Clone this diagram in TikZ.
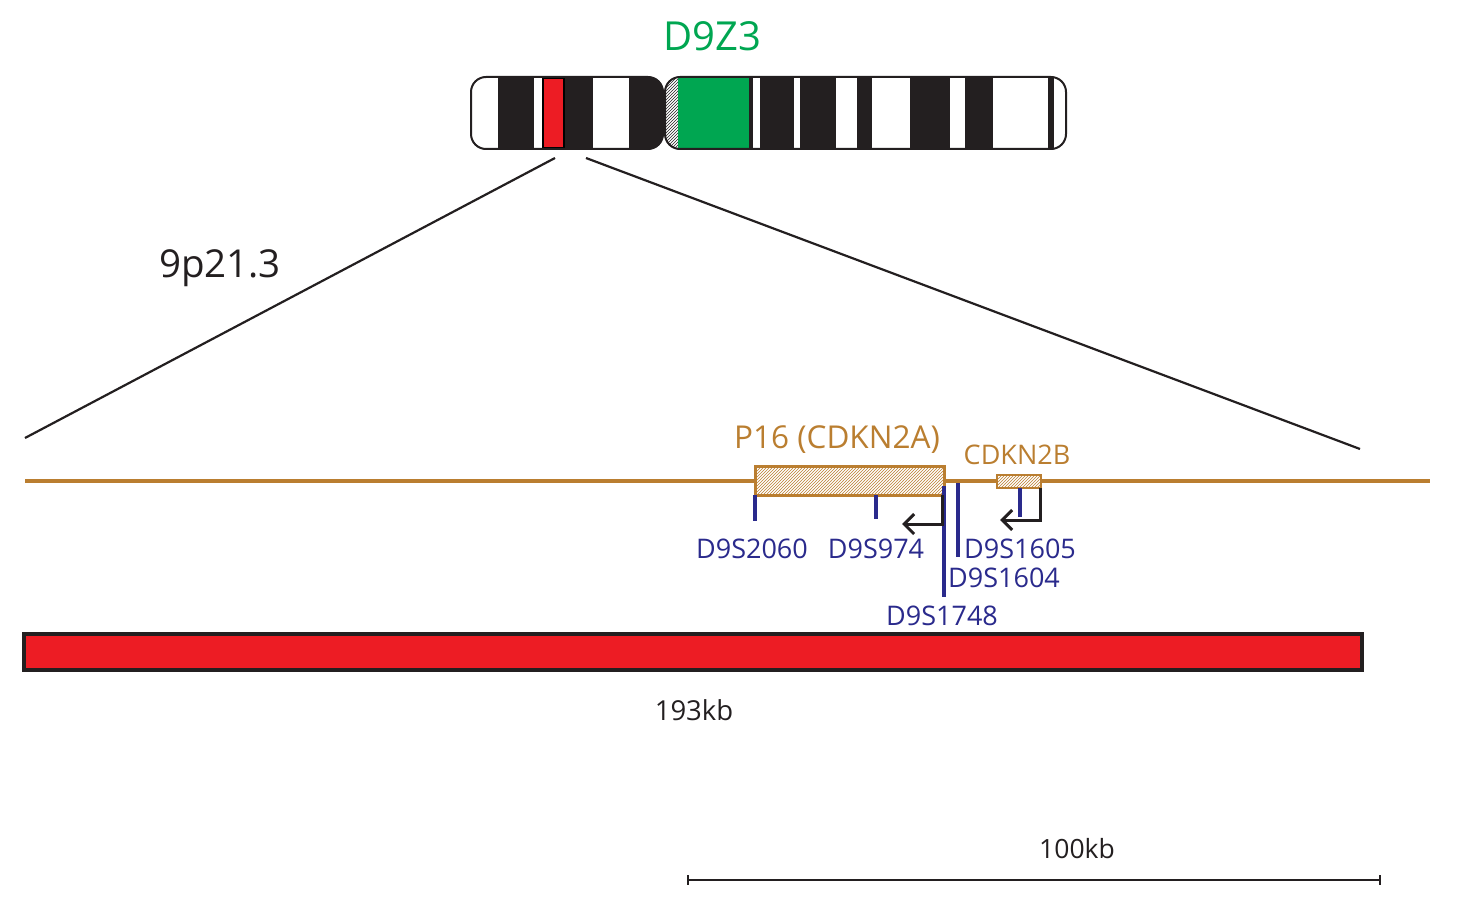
\documentclass[tikz,border=0pt]{standalone}
\usepackage{fontspec}
\setmainfont{Open Sans}
\usetikzlibrary{patterns,arrows.meta}
\definecolor{gold}{RGB}{186,126,48}
\definecolor{mblue}{RGB}{42,42,140}
\definecolor{dgreen}{RGB}{0,166,81}
\definecolor{cred}{RGB}{237,28,36}
\definecolor{band}{RGB}{35,31,32}
\tikzset{x=1pt,y=-1pt,
 mk/.style={mblue,line width=3.2pt},
 mkl/.style={mblue,font=\fontsize{27}{27}\selectfont,inner sep=0pt},
 gl/.style={gold,inner sep=0pt},
 arr/.style={band,line width=3pt,-{Straight Barb[length=10pt,width=20pt]}}}
\begin{document}
\begin{tikzpicture}
\useasboundingbox (0,0) rectangle (1457,904);
% left arm
\begin{scope}
\clip[rounded corners=15pt] (471,77) rectangle (663,149);
\fill[band] (498,77) rectangle (534,149);
\fill[band] (564,77) rectangle (593,149);
\fill[band] (629,77) rectangle (663,149);
\end{scope}
\fill[cred,draw=black,line width=1.5pt] (543,78) rectangle (564,148);
\draw[band,line width=2pt,rounded corners=15pt] (471,77) rectangle (663,149);
% right arm
\begin{scope}
\clip[rounded corners=15pt] (665,77) rectangle (1066,149);
\fill[pattern=north east lines,pattern color=band] (659,77) rectangle (678,149);
\fill[dgreen] (678,77) rectangle (749,149);
\fill[band] (749,77) rectangle (753,149);
\fill[band] (760,77) rectangle (794,149);
\fill[band] (800,77) rectangle (836,149);
\fill[band] (857,77) rectangle (872,149);
\fill[band] (910,77) rectangle (950,149);
\fill[band] (965,77) rectangle (993,149);
\fill[band] (1048,77) rectangle (1054,149);
\end{scope}
\draw[band,line width=2pt,rounded corners=15pt] (665,77) rectangle (1066,149);
\node[dgreen,font=\fontsize{40}{40}\selectfont,inner sep=0pt] (d9z3) at (712,36) {D9Z3};
% zoom lines
\coordinate (z1) at (555,158); \coordinate (z2) at (25,438);
\coordinate (z3) at (586,158); \coordinate (z4) at (1360,449);
\draw[band,line width=2.2pt] (z1) -- (z2);
\draw[band,line width=2.2pt] (z3) -- (z4);
\node[band,font=\fontsize{38.5}{38.5}\selectfont,inner sep=0pt] (reg) at (220,268) {9p21.3};
% gene line
\coordinate (g1) at (25,481); \coordinate (g2) at (1430,481);
\draw[gold,line width=3.5pt] (g1) -- (g2);
\filldraw[fill=white,draw=gold,line width=2.5pt] (755,466) rectangle (944,495);
\fill[pattern=north east lines,pattern color=gold] (755,466) rectangle (944,495);
\draw[gold,line width=3pt] (755,466) rectangle (944,495);
\filldraw[fill=white,draw=gold,line width=1.5pt] (997,475) rectangle (1041,488);
\fill[pattern=north east lines,pattern color=gold] (997,475) rectangle (1041,488);
\draw[gold,line width=1.8pt] (997,475) rectangle (1041,488);
\node[gl,font=\fontsize{31.5}{31.5}\selectfont] (p16) at (837,440) {P16 (CDKN2A)};
\node[gl,font=\fontsize{27}{27}\selectfont] (cdk) at (1017,455) {CDKN2B};
% markers
\draw[mk] (755,495) -- (755,521);
\draw[mk] (876,495) -- (876,519);
\draw[mk] (944,486) -- (944,597);
\draw[mk] (958,483) -- (958,557);
\draw[mk] (1020,488) -- (1020,517);
\node[mkl] (m1) at (752,549) {D9S2060};
\node[mkl] (m2) at (876,549) {D9S974};
\node[mkl] (m3) at (1020,549) {D9S1605};
\node[mkl] (m4) at (1004,578) {D9S1604};
\node[mkl] (m5) at (942,616) {D9S1748};
% arrows
\coordinate (a1) at (942,495); \coordinate (a2) at (902,524);
\draw[arr] (a1) |- (a2);
\coordinate (b1) at (1040,488); \coordinate (b2) at (1000,520);
\draw[arr] (b1) |- (b2);
% red bar
\filldraw[fill=cred,draw=band,line width=4pt] (24,634) rectangle (1362,670);
\node[band,font=\fontsize{27.5}{27.5}\selectfont,inner sep=0pt] (kb193) at (694,710) {193kb};
% scale
\coordinate (s1) at (688,880); \coordinate (s2) at (1380,880);
\draw[band,line width=1.8pt] (s1) -- (s2);
\draw[band,line width=1.8pt] (688,875) -- (688,885) (1380,875) -- (1380,885);
\node[band,font=\fontsize{26.5}{26.5}\selectfont,inner sep=0pt] (kb100) at (1077,849) {100kb};
\end{tikzpicture}
\end{document}
